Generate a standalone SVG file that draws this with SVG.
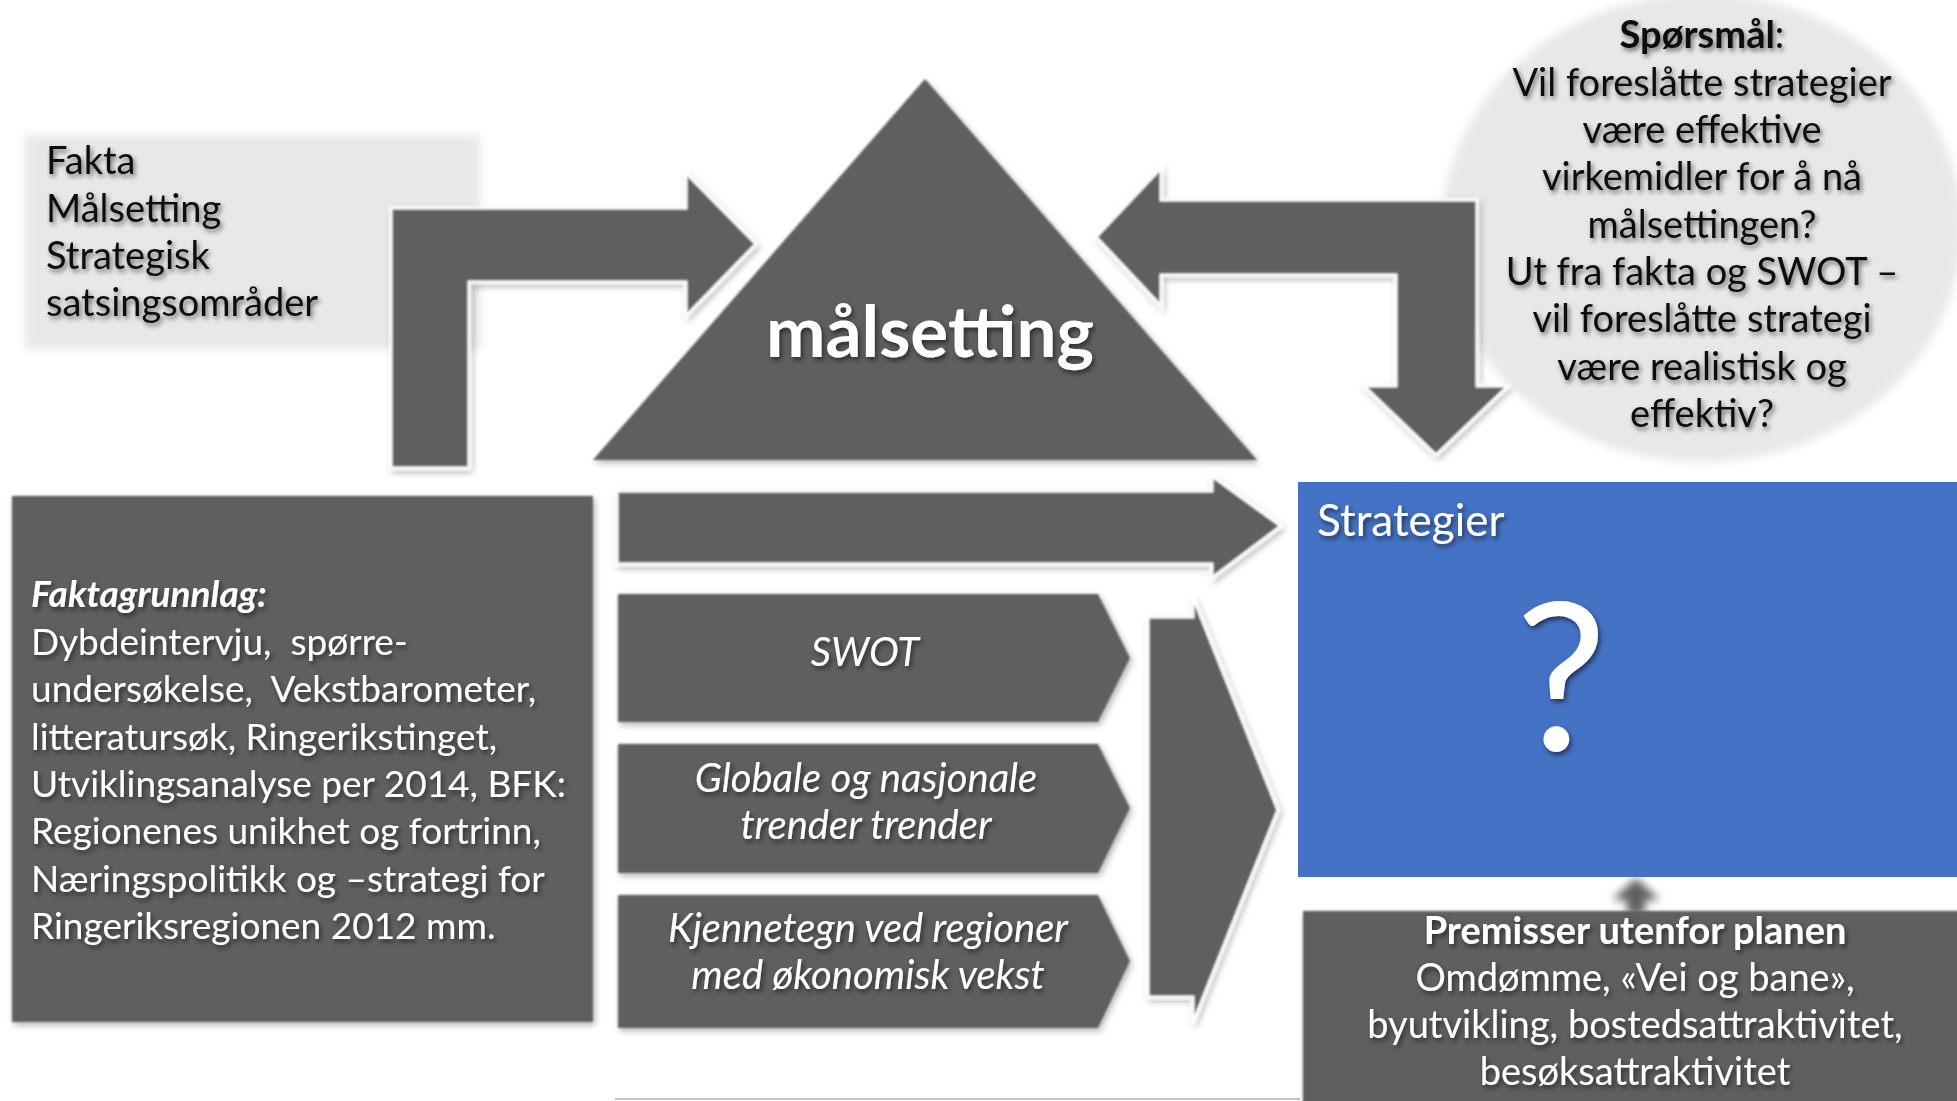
<svg xmlns="http://www.w3.org/2000/svg" width="1957" height="1101" viewBox="0 0 1957 1101">
<defs>
<filter id="ts" x="-10%" y="-30%" width="120%" height="160%">
<feDropShadow dx="2" dy="3" stdDeviation="2.5" flood-color="#000" flood-opacity="0.55"/>
</filter>
<filter id="ss" x="-10%" y="-10%" width="120%" height="120%">
<feGaussianBlur in="SourceGraphic" stdDeviation="1.2" result="b"/>
<feDropShadow in="b" dx="2" dy="3" stdDeviation="3" flood-color="#000" flood-opacity="0.3"/>
</filter>
<filter id="soft" x="-10%" y="-10%" width="120%" height="120%">
<feGaussianBlur stdDeviation="4"/>
</filter>
</defs>
<style>
.dk{fill:#5f5f5f;}
.ar{fill:#5f5f5f;stroke:#ffffff;stroke-width:3;stroke-linejoin:miter;}
.lt{fill:#e8e8e8;}
text{font-family:Lato,"Liberation Sans",Arial,sans-serif;filter:url(#ts);}
.bk{fill:#111111;font-size:38px;}
.wt{fill:#ffffff;font-size:38px;}
.fg{font-size:37px;}
.it{font-style:italic;font-size:40px;}
.bd{font-weight:bold;}
.mid{text-anchor:middle;}
</style>
<rect width="1957" height="1101" fill="#ffffff"/>

<g id="node-fakta">
<rect class="lt" x="25" y="135" width="455" height="214" filter="url(#soft)"/>
<text class="bk" x="46" y="174">Fakta</text>
<text class="bk" x="46" y="222">Målsetting</text>
<text class="bk" x="46" y="269">Strategisk</text>
<text class="bk" x="46" y="316">satsingsområder</text>
</g>

<g id="node-sporsmal">
<ellipse class="lt" cx="1702" cy="228" rx="260" ry="234" filter="url(#soft)"/>
<text class="bk mid" x="1702" y="48"><tspan class="bd">Spørsmål</tspan>:</text>
<text class="bk mid" x="1702" y="96">Vil foreslåtte strategier</text>
<text class="bk mid" x="1702" y="143">være effektive</text>
<text class="bk mid" x="1702" y="190">virkemidler for å nå</text>
<text class="bk mid" x="1702" y="238">målsettingen?</text>
<text class="bk mid" x="1702" y="285">Ut fra fakta og SWOT –</text>
<text class="bk mid" x="1702" y="332">vil foreslåtte strategi</text>
<text class="bk mid" x="1702" y="380">være realistisk og</text>
<text class="bk mid" x="1702" y="427">effektiv?</text>
</g>

<g id="node-malsetting">
<polygon class="dk" points="925,79 1257,460 593,460" filter="url(#ss)"/>
<text class="wt bd mid" x="930" y="357" style="font-size:71px">målsetting</text>
</g>

<g id="connectors">
<path id="arrow-fakta-malsetting" class="ar" d="M391,468 L391,208 L686,208 L686,173 L756,244 L686,316 L686,282 L469,282 L469,468 Z" filter="url(#ss)"/>
<path id="arrow-sporsmal" class="ar" d="M1096,237 L1161,168 L1161,200 L1477,200 L1477,386 L1508,386 L1436,455 L1364,386 L1396,386 L1396,275 L1161,275 L1161,306 Z" filter="url(#ss)"/>
<path id="arrow-top" class="ar" d="M617,491 L1212,491 L1212,476 L1281,526 L1212,578 L1212,564 L617,564 Z" filter="url(#ss)"/>
<path id="arrow-chevron" class="ar" d="M1148,617 L1193,617 L1193,597 L1278,810 L1193,1023 L1193,997 L1148,997 Z" filter="url(#ss)"/>
<path id="arrow-premisser" class="dk" d="M1612,900 L1636,878 L1660,900 L1645,900 L1645,914 L1627,914 L1627,900 Z" filter="url(#soft)"/>
<line x1="615" y1="1099" x2="1300" y2="1099" stroke="#c4c4c4" stroke-width="2"/>
</g>

<g id="node-faktagrunnlag">
<rect class="dk" x="12" y="496" width="581" height="526" filter="url(#ss)"/>
<text class="wt fg" x="31" y="607"><tspan class="bd" style="font-style:italic">Faktagrunnlag:</tspan></text>
<text class="wt fg" x="31" y="655" xml:space="preserve">Dybdeintervju,  spørre-</text>
<text class="wt fg" x="31" y="702" xml:space="preserve">undersøkelse,  Vekstbarometer,</text>
<text class="wt fg" x="31" y="750">litteratursøk, Ringerikstinget,</text>
<text class="wt fg" x="31" y="797">Utviklingsanalyse per 2014, BFK:</text>
<text class="wt fg" x="31" y="844">Regionenes unikhet og fortrinn,</text>
<text class="wt fg" x="31" y="892">Næringspolitikk og –strategi for</text>
<text class="wt fg" x="31" y="939">Ringeriksregionen 2012 mm.</text>
</g>

<g id="node-swot">
<path class="dk" d="M618,594 L1098,594 L1130,658 L1098,722 L618,722 Z" filter="url(#ss)"/>
<text class="wt it mid" x="865" y="666">SWOT</text>
</g>

<g id="node-globale">
<path class="dk" d="M618,744 L1098,744 L1130,808 L1098,873 L618,873 Z" filter="url(#ss)"/>
<text class="wt it mid" x="866" y="792">Globale og nasjonale</text>
<text class="wt it mid" x="866" y="839">trender trender</text>
</g>

<g id="node-kjennetegn">
<path class="dk" d="M618,895 L1098,895 L1130,961 L1098,1028 L618,1028 Z" filter="url(#ss)"/>
<text class="wt it mid" x="868" y="942">Kjennetegn ved regioner</text>
<text class="wt it mid" x="868" y="989">med økonomisk vekst</text>
</g>

<g id="node-strategier">
<rect x="1298" y="482" width="659" height="395" fill="#4472c4"/>
<text class="wt" x="1317" y="536" style="font-size:44px">Strategier</text>
<text class="wt mid" x="1561" y="750" style="font-size:205px">?</text>
</g>

<g id="node-premisser">
<rect class="dk" x="1303" y="911" width="660" height="200" filter="url(#ss)"/>
<text class="wt bd mid" x="1635" y="944">Premisser utenfor planen</text>
<text class="wt mid" x="1635" y="991">Omdømme, «Vei og bane»,</text>
<text class="wt mid" x="1635" y="1038">byutvikling, bostedsattraktivitet,</text>
<text class="wt mid" x="1635" y="1085">besøksattraktivitet</text>
</g>
</svg>
